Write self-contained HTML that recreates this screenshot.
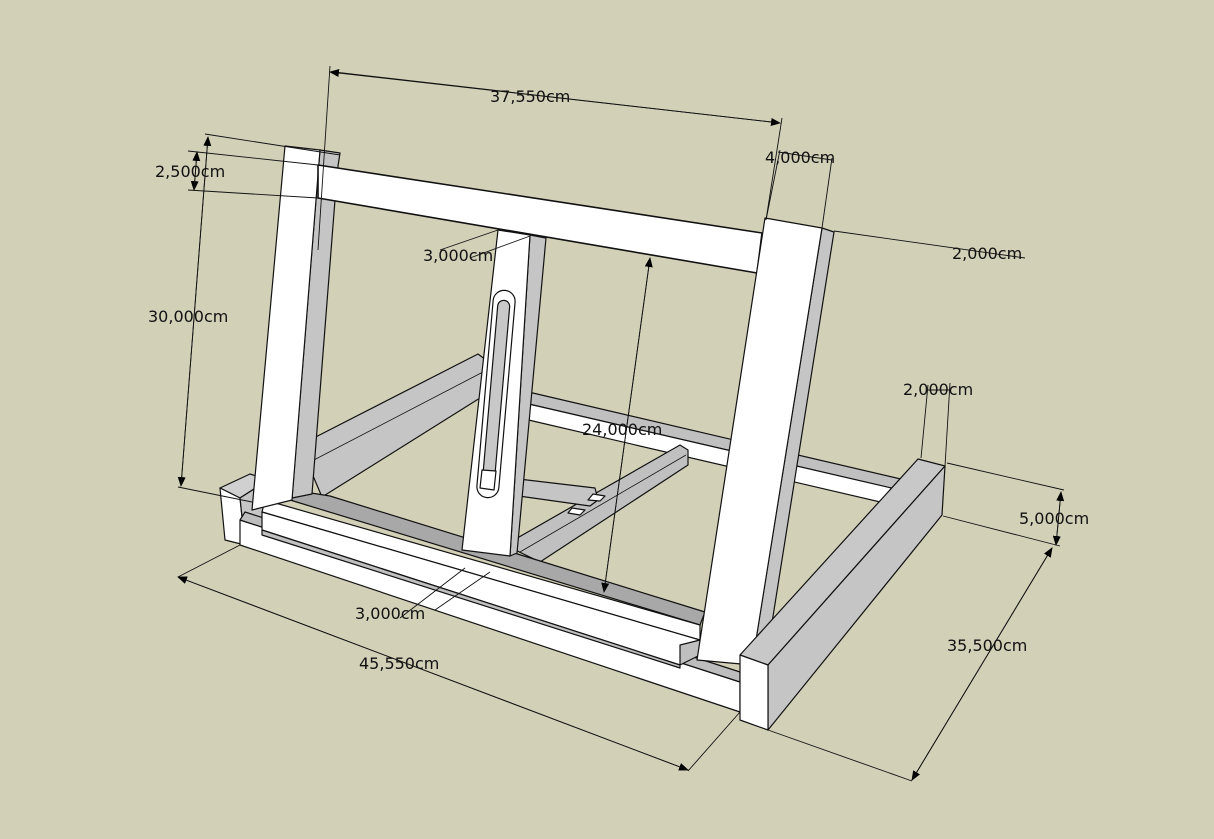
<!DOCTYPE html>
<html><head><meta charset="utf-8"><style>
html,body{margin:0;padding:0;background:#d3d0b8;}
svg{display:block}
text{font-family:"DejaVu Sans","Liberation Sans",sans-serif;font-size:16px;fill:#111}
</style></head><body>
<svg width="1214" height="839" viewBox="0 0 1214 839" xmlns="http://www.w3.org/2000/svg">
<defs>
<marker id="a" markerWidth="10" markerHeight="8" refX="9" refY="4" orient="auto" markerUnits="userSpaceOnUse">
<path d="M0,0 L10,4 L0,8 z" fill="#000"/></marker>
</defs>
<rect width="1214" height="839" fill="#d3d0b8"/>
<g stroke="#111" stroke-width="1.2" stroke-linejoin="round">
<!-- left side rail -->
<polygon points="300,445 478,354 486,360 480,398 322,497" fill="#c5c5c5"/>
<line x1="310" y1="462" x2="483" y2="372" stroke-width="0.8"/>
<!-- back cross bar -->
<polygon points="520,390 905,480 900,490 520,402" fill="#c0c0c0"/>
<polygon points="520,402 900,490 893,505 520,418" fill="#fff"/>
<!-- middle rail -->
<polygon points="505,545 680,445 688,450 688,465 540,562" fill="#c0c0c0"/>
<line x1="520" y1="552" x2="686" y2="455" stroke-width="0.8"/>
<!-- slider arm -->
<polygon points="493,476 595,488 598,500 590,506 490,492" fill="#c5c5c5"/>
<polygon points="593,494 605,496 600,501 588,500" fill="#fff"/>
<polygon points="572,508 585,510 580,515 568,513" fill="#fff"/>
<!-- left foot -->
<polygon points="220,488 250,474 268,480 240,498" fill="#d0d0d0"/>
<polygon points="220,488 240,498 245,545 225,540" fill="#fff"/>
<polygon points="240,498 268,480 262,540 245,545" fill="#c5c5c5"/>
<!-- base board -->
<polygon points="240,520 740,682 740,712 240,545" fill="#fff"/>
<polygon points="245,512 740,672 740,682 240,520" fill="#bdbdbd"/>
<!-- gray inner strip -->
<polygon points="292,490 330,496 705,612 700,625 290,500" fill="#a8a8a8"/>
<!-- ledge -->
<polygon points="265,500 700,625 700,640 262,512" fill="#fff"/>
<polygon points="262,512 700,640 680,665 262,530" fill="#fff"/>
<polygon points="262,530 680,665 680,668 262,535" fill="#c0c0c0"/>
<polygon points="680,645 700,640 700,655 680,665" fill="#c0c0c0"/>
<!-- left post -->
<polygon points="320,150 340,153 338,166 335,200 312,494 292,498" fill="#c5c5c5"/>
<polygon points="285,146 320,150 292,500 252,510" fill="#fff"/>
<!-- top bar -->
<polygon points="318,165 762,233 757,273 318,198" fill="#fff" stroke-width="1.6"/>
<!-- center post -->
<polygon points="530,235 546,238 517,553 510,556" fill="#c5c5c5"/>
<polygon points="498,230 530,235 510,556 462,550" fill="#fff"/>
<rect x="485" y="290" width="22" height="208" rx="11" transform="rotate(5 496 394)" fill="#fff"/>
<rect x="490" y="300" width="12" height="186" rx="6" transform="rotate(5 496 394)" fill="#c8c8c8"/>
<polygon points="482,470 496,471 494,490 480,488" fill="#fff"/>
<!-- right post -->
<polygon points="822,228 834,232 768,648 752,664" fill="#c5c5c5"/>
<polygon points="765,218 822,228 752,665 697,660" fill="#fff"/>
<!-- right rail -->
<polygon points="740,655 918,459 945,466 768,665" fill="#c8c8c8"/>
<polygon points="768,665 945,466 942,515 768,730" fill="#c5c5c5"/>
<polygon points="740,655 768,665 768,730 740,720" fill="#fff"/>
</g>
<!-- dimensions -->
<g stroke="#111" stroke-width="0.9" fill="none">
<line x1="330" y1="66" x2="318" y2="250"/>
<line x1="782" y1="118" x2="766" y2="220"/>
<line x1="334" y1="72" x2="780" y2="123" marker-end="url(#a)"/>
<line x1="780" y1="123" x2="330" y2="72" marker-end="url(#a)"/>
<line x1="205" y1="134" x2="340" y2="155"/>
<line x1="178" y1="487" x2="252" y2="502"/>
<line x1="208" y1="137" x2="181" y2="486" marker-end="url(#a)"/>
<line x1="181" y1="486" x2="208" y2="137" marker-end="url(#a)"/>
<line x1="188" y1="151" x2="318" y2="165"/>
<line x1="188" y1="190" x2="318" y2="198"/>
<line x1="197" y1="152" x2="194" y2="190" marker-end="url(#a)"/>
<line x1="194" y1="190" x2="197" y2="152" marker-end="url(#a)"/>
<line x1="780" y1="150" x2="766" y2="220"/>
<line x1="832" y1="158" x2="822" y2="228"/>
<line x1="778" y1="152" x2="832" y2="160"/>
<line x1="834" y1="231" x2="1025" y2="258"/>
<line x1="440" y1="250" x2="498" y2="230"/>
<line x1="470" y1="258" x2="530" y2="236"/>
<line x1="650" y1="258" x2="604" y2="592" marker-end="url(#a)"/>
<line x1="604" y1="592" x2="650" y2="258" marker-end="url(#a)"/>
<line x1="928" y1="385" x2="921" y2="458"/>
<line x1="950" y1="383" x2="945" y2="466"/>
<line x1="926" y1="390" x2="950" y2="390"/>
<line x1="947" y1="463" x2="1064" y2="490"/>
<line x1="943" y1="516" x2="1060" y2="546"/>
<line x1="1061" y1="492" x2="1056" y2="545" marker-end="url(#a)"/>
<line x1="1056" y1="545" x2="1061" y2="492" marker-end="url(#a)"/>
<line x1="768" y1="730" x2="912" y2="781"/>
<line x1="1052" y1="548" x2="912" y2="780" marker-end="url(#a)"/>
<line x1="912" y1="780" x2="1052" y2="548" marker-end="url(#a)"/>
<line x1="240" y1="545" x2="178" y2="577"/>
<line x1="740" y1="712" x2="688" y2="771"/>
<line x1="178" y1="577" x2="688" y2="770" marker-end="url(#a)"/>
<line x1="688" y1="770" x2="178" y2="577" marker-end="url(#a)"/>
<line x1="400" y1="618" x2="465" y2="568"/>
<line x1="435" y1="610" x2="490" y2="572"/>
</g>
<g>
<text x="490" y="102">37,550cm</text>
<text x="765" y="163">4,000cm</text>
<text x="155" y="177">2,500cm</text>
<text x="423" y="261">3,000cm</text>
<text x="952" y="259">2,000cm</text>
<text x="148" y="322">30,000cm</text>
<text x="582" y="435">24,000cm</text>
<text x="903" y="395">2,000cm</text>
<text x="1019" y="524">5,000cm</text>
<text x="355" y="619">3,000cm</text>
<text x="359" y="669">45,550cm</text>
<text x="947" y="651">35,500cm</text>
</g>
</svg>
</body></html>
